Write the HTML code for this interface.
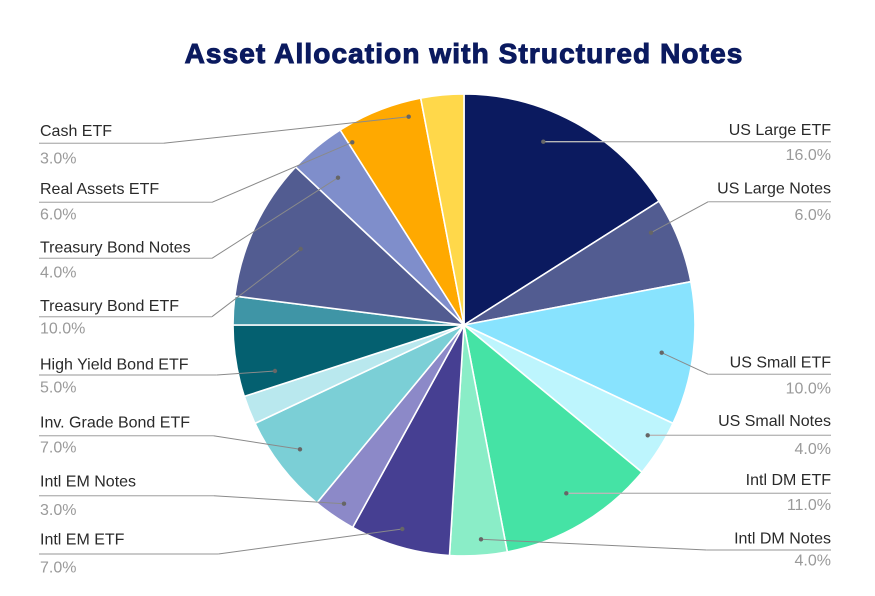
<!DOCTYPE html>
<html>
<head>
<meta charset="utf-8">
<style>
  html,body{margin:0;padding:0;background:#ffffff;}
  svg{display:block;}
  .lbl{font-family:"Liberation Sans",sans-serif;font-size:16px;fill:#2a2a2a;}
  .pct{font-family:"Liberation Sans",sans-serif;font-size:16px;fill:#9a9a9a;}
  .r{text-anchor:end;}
</style>
</head>
<body>
<svg width="875" height="596" viewBox="0 0 875 596" xmlns="http://www.w3.org/2000/svg">
  <rect width="875" height="596" fill="#ffffff"/>
  <text x="464" y="63" text-anchor="middle" font-family="Liberation Sans, sans-serif" font-weight="bold" font-size="28" letter-spacing="1.1" fill="#0b1a5f" stroke="#0b1a5f" stroke-width="1">Asset Allocation with Structured Notes</text>

  <g stroke="#ffffff" stroke-width="1.6" stroke-linejoin="round">
    <path d="M464,325 L464,94 A231,231 0 0 1 659.0,201.2 Z" fill="#0b1a5f"/>
    <path d="M464,325 L659.0,201.2 A231,231 0 0 1 690.9,281.7 Z" fill="#525c91"/>
    <path d="M464,325 L690.9,281.7 A231,231 0 0 1 673.0,423.4 Z" fill="#88e3fe"/>
    <path d="M464,325 L673.0,423.4 A231,231 0 0 1 642.0,472.2 Z" fill="#bdf5fd"/>
    <path d="M464,325 L642.0,472.2 A231,231 0 0 1 507.3,551.9 Z" fill="#45e3a5"/>
    <path d="M464,325 L507.3,551.9 A231,231 0 0 1 449.5,555.5 Z" fill="#8aedc7"/>
    <path d="M464,325 L449.5,555.5 A231,231 0 0 1 352.7,527.4 Z" fill="#463f92"/>
    <path d="M464,325 L352.7,527.4 A231,231 0 0 1 316.8,503.0 Z" fill="#8c89c8"/>
    <path d="M464,325 L316.8,503.0 A231,231 0 0 1 255.0,423.4 Z" fill="#7bcfd6"/>
    <path d="M464,325 L255.0,423.4 A231,231 0 0 1 244.3,396.4 Z" fill="#b9e8ee"/>
    <path d="M464,325 L244.3,396.4 A231,231 0 0 1 233,325 Z" fill="#046070"/>
    <path d="M464,325 L233,325 A231,231 0 0 1 234.8,296.1 Z" fill="#3f95a6"/>
    <path d="M464,325 L234.8,296.1 A231,231 0 0 1 295.6,166.9 Z" fill="#525c91"/>
    <path d="M464,325 L295.6,166.9 A231,231 0 0 1 340.2,130.0 Z" fill="#7f8ecb"/>
    <path d="M464,325 L340.2,130.0 A231,231 0 0 1 420.7,98.1 Z" fill="#ffa900"/>
    <path d="M464,325 L420.7,98.1 A231,231 0 0 1 464,94 Z" fill="#ffd84a"/>
  </g>

  <!-- leader lines: diagonal parts -->
  <g fill="none" stroke="#8a8a8a" stroke-width="1">
    <polyline points="651,232.7 708.3,201.7"/>
    <polyline points="661.7,352.7 708.3,374.3"/>
    <polyline points="481,539.3 706.7,550"/>
    <polyline points="408.7,116.7 163.3,143.3"/>
    <polyline points="352.3,142.3 212,202.3"/>
    <polyline points="338,177.7 212,258.3"/>
    <polyline points="300.7,249 212,316.7"/>
    <polyline points="275,371 216.7,375"/>
    <polyline points="300,449.3 213.3,435.7"/>
    <polyline points="344,503.7 213.3,495.7"/>
    <polyline points="402.3,529 218.3,554"/>
  </g>
  <!-- leader lines: horizontal parts -->
  <g fill="none" stroke="#b8b8b8" stroke-width="1.4">
    <polyline points="543.3,141.7 831,141.7"/>
    <polyline points="708.3,201.7 831,201.7"/>
    <polyline points="708.3,374.3 831,374.3"/>
    <polyline points="647.7,435.3 831,435.3"/>
    <polyline points="566.3,493.3 831,493.3"/>
    <polyline points="706.7,550 831,550"/>
    <polyline points="163.3,143.3 39,143.3"/>
    <polyline points="212,202.3 39,202.3"/>
    <polyline points="212,258.3 39,258.3"/>
    <polyline points="212,316.7 39,316.7"/>
    <polyline points="216.7,375 39,375"/>
    <polyline points="213.3,435.7 39,435.7"/>
    <polyline points="213.3,495.7 39,495.7"/>
    <polyline points="218.3,554 39,554"/>
  </g>
  <g fill="#666666">
    <circle cx="543.3" cy="141.7" r="2.2"/>
    <circle cx="651" cy="232.7" r="2.2"/>
    <circle cx="661.7" cy="352.7" r="2.2"/>
    <circle cx="647.7" cy="435.3" r="2.2"/>
    <circle cx="566.3" cy="493.3" r="2.2"/>
    <circle cx="481" cy="539.3" r="2.2"/>
    <circle cx="408.7" cy="116.7" r="2.2"/>
    <circle cx="352.3" cy="142.3" r="2.2"/>
    <circle cx="338" cy="177.7" r="2.2"/>
    <circle cx="300.7" cy="249" r="2.2"/>
    <circle cx="275" cy="371" r="2.2"/>
    <circle cx="300" cy="449.3" r="2.2"/>
    <circle cx="344" cy="503.7" r="2.2"/>
    <circle cx="402.3" cy="529" r="2.2"/>
  </g>

  <!-- right labels -->
  <text class="lbl r" x="831" y="135">US Large ETF</text>
  <text class="pct r" x="831" y="160">16.0%</text>
  <text class="lbl r" x="831" y="193.3">US Large Notes</text>
  <text class="pct r" x="831" y="220">6.0%</text>
  <text class="lbl r" x="831" y="367.7">US Small ETF</text>
  <text class="pct r" x="831" y="393.3">10.0%</text>
  <text class="lbl r" x="831" y="426">US Small Notes</text>
  <text class="pct r" x="831" y="454">4.0%</text>
  <text class="lbl r" x="831" y="485">Intl DM ETF</text>
  <text class="pct r" x="831" y="510">11.0%</text>
  <text class="lbl r" x="831" y="543.3">Intl DM Notes</text>
  <text class="pct r" x="831" y="565.7">4.0%</text>

  <!-- left labels -->
  <text class="lbl" x="40" y="136">Cash ETF</text>
  <text class="pct" x="40" y="163.3">3.0%</text>
  <text class="lbl" x="40" y="194">Real Assets ETF</text>
  <text class="pct" x="40" y="219.3">6.0%</text>
  <text class="lbl" x="40" y="252.3">Treasury Bond Notes</text>
  <text class="pct" x="40" y="277.3">4.0%</text>
  <text class="lbl" x="40" y="311">Treasury Bond ETF</text>
  <text class="pct" x="40" y="333.3">10.0%</text>
  <text class="lbl" x="40" y="369.3">High Yield Bond ETF</text>
  <text class="pct" x="40" y="392.3">5.0%</text>
  <text class="lbl" x="40" y="427.3">Inv. Grade Bond ETF</text>
  <text class="pct" x="40" y="452.3">7.0%</text>
  <text class="lbl" x="40" y="486.7">Intl EM Notes</text>
  <text class="pct" x="40" y="515">3.0%</text>
  <text class="lbl" x="40" y="544.3">Intl EM ETF</text>
  <text class="pct" x="40" y="572.7">7.0%</text>
</svg>
</body>
</html>
